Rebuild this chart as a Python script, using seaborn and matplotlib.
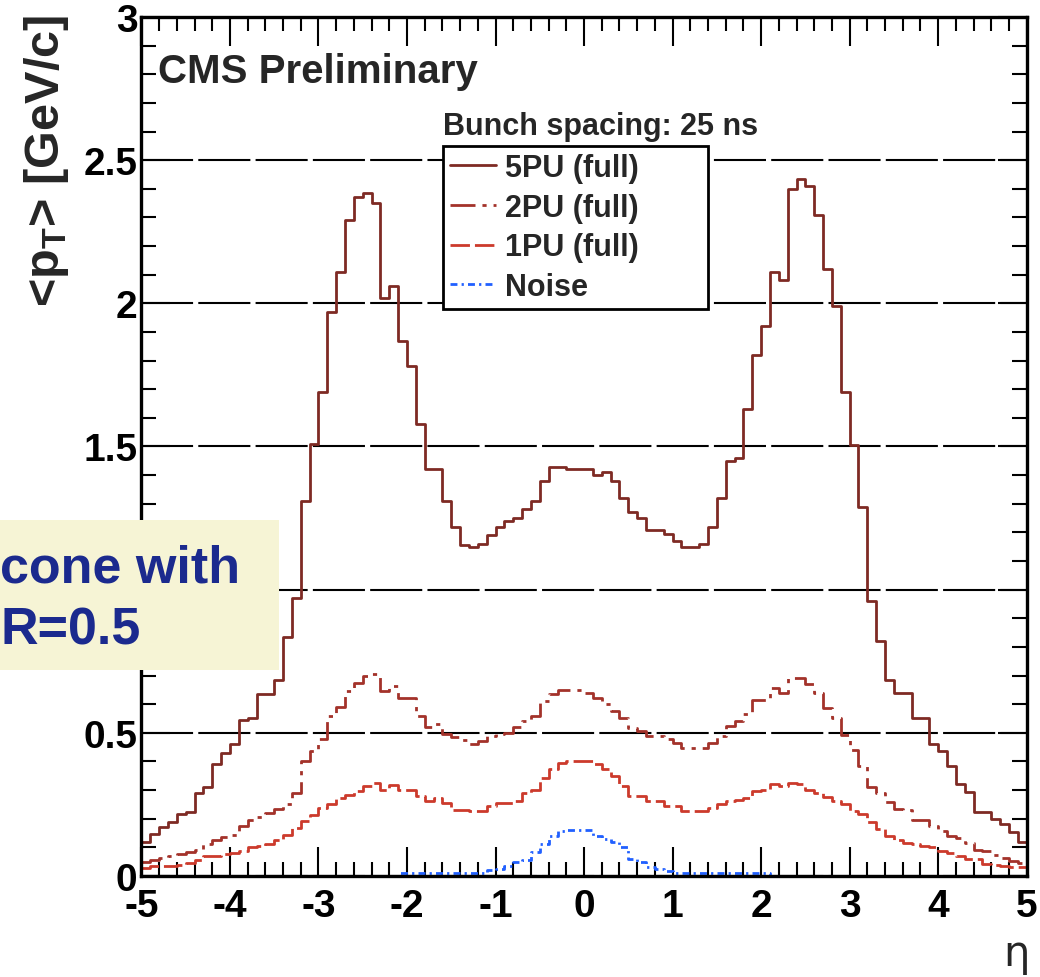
import numpy as np
import pandas as pd
import matplotlib
matplotlib.use('Agg')
import matplotlib.pyplot as plt
from matplotlib.patches import Rectangle
from matplotlib.ticker import MultipleLocator
import seaborn as sns

# ------------------------------------------------------------
# DATA: <pT> in a cone vs eta, 100 bins from -5 to 5
# ------------------------------------------------------------
n_bins = 100
eta_range = (-5, 5)
eta_centres = np.linspace(-4.95, 4.95, n_bins)

pt_5pu = [
    0.12, 0.145, 0.17, 0.19, 0.215, 0.225, 0.29, 0.31, 0.39, 0.43,
    0.46, 0.545, 0.55, 0.635, 0.635, 0.685, 0.835, 0.97, 1.31, 1.51,
    1.69, 1.97, 2.11, 2.29, 2.37, 2.385, 2.35, 2.02, 2.06, 1.87,
    1.78, 1.58, 1.42, 1.42, 1.31, 1.22, 1.155, 1.15, 1.16, 1.19,
    1.22, 1.24, 1.25, 1.28, 1.31, 1.38, 1.43, 1.43, 1.42, 1.42,
    1.42, 1.40, 1.41, 1.38, 1.32, 1.27, 1.25, 1.21, 1.21, 1.195,
    1.17, 1.15, 1.15, 1.16, 1.22, 1.32, 1.45, 1.46, 1.63, 1.82,
    1.92, 2.11, 2.08, 2.40, 2.435, 2.41, 2.31, 2.12, 1.99, 1.69,
    1.505, 1.29, 0.96, 0.82, 0.685, 0.64, 0.64, 0.55, 0.55, 0.46,
    0.435, 0.385, 0.32, 0.295, 0.225, 0.225, 0.20, 0.18, 0.155, 0.12,
]

pt_2pu = [
    0.05, 0.055, 0.063, 0.07, 0.075, 0.085, 0.092, 0.11, 0.125, 0.135,
    0.144, 0.175, 0.197, 0.205, 0.22, 0.235, 0.25, 0.29, 0.40, 0.436,
    0.48, 0.56, 0.59, 0.646, 0.675, 0.70, 0.705, 0.645, 0.665, 0.62,
    0.62, 0.56, 0.52, 0.53, 0.495, 0.485, 0.475, 0.46, 0.47, 0.49,
    0.495, 0.50, 0.52, 0.54, 0.56, 0.61, 0.635, 0.648, 0.65, 0.65,
    0.64, 0.62, 0.60, 0.576, 0.55, 0.517, 0.505, 0.488, 0.488, 0.48,
    0.465, 0.447, 0.447, 0.447, 0.465, 0.49, 0.523, 0.54, 0.564, 0.613,
    0.613, 0.657, 0.64, 0.692, 0.692, 0.669, 0.64, 0.587, 0.552, 0.494,
    0.44, 0.385, 0.31, 0.29, 0.258, 0.235, 0.23, 0.197, 0.195, 0.175,
    0.157, 0.14, 0.133, 0.115, 0.09, 0.087, 0.074, 0.063, 0.053, 0.045,
]

pt_1pu = [
    0.028, 0.036, 0.036, 0.036, 0.038, 0.045, 0.055, 0.069, 0.069, 0.075,
    0.08, 0.086, 0.10, 0.105, 0.112, 0.127, 0.144, 0.168, 0.191, 0.214,
    0.238, 0.25, 0.273, 0.284, 0.296, 0.313, 0.325, 0.302, 0.317, 0.302,
    0.302, 0.28, 0.261, 0.273, 0.256, 0.232, 0.232, 0.226, 0.226, 0.244,
    0.256, 0.256, 0.261, 0.29, 0.302, 0.343, 0.372, 0.395, 0.40, 0.40,
    0.40, 0.39, 0.372, 0.349, 0.313, 0.279, 0.279, 0.261, 0.261, 0.244,
    0.244, 0.226, 0.226, 0.226, 0.238, 0.25, 0.261, 0.265, 0.273, 0.296,
    0.302, 0.32, 0.313, 0.325, 0.32, 0.302, 0.29, 0.275, 0.261, 0.25,
    0.226, 0.215, 0.19, 0.165, 0.139, 0.127, 0.115, 0.11, 0.104, 0.10,
    0.087, 0.08, 0.069, 0.06, 0.058, 0.043, 0.04, 0.035, 0.032, 0.03,
]

pt_noise = [
    0, 0, 0, 0, 0, 0, 0, 0, 0, 0,
    0, 0, 0, 0, 0, 0, 0, 0, 0, 0,
    0, 0, 0, 0, 0, 0, 0, 0, 0, 0.01,
    0.01, 0.01, 0.01, 0.01, 0.01, 0.01, 0.01, 0.01, 0.012, 0.02,
    0.025, 0.035, 0.05, 0.055, 0.085, 0.11, 0.14, 0.157, 0.16, 0.16,
    0.16, 0.14, 0.13, 0.12, 0.10, 0.06, 0.05, 0.03, 0.025, 0.017,
    0.01, 0.01, 0.01, 0.01, 0.01, 0.01, 0.01, 0.01, 0.01, 0.01,
    0.01, 0, 0, 0, 0, 0, 0, 0, 0, 0,
    0, 0, 0, 0, 0, 0, 0, 0, 0, 0,
    0, 0, 0, 0, 0, 0, 0, 0, 0, 0,
]

series_labels = ['5PU (full)', '2PU (full)', '1PU (full)', 'Noise']
x_ticks = [-5, -4, -3, -2, -1, 0, 1, 2, 3, 4, 5]
y_ticks = [0, 0.5, 1, 1.5, 2, 2.5, 3]
y_tick_labels = ['0', '0.5', '1', '1.5', '2', '2.5', '3']

# ------------------------------------------------------------
# STYLE
# ------------------------------------------------------------
sns.set_style('ticks')
plt.rcParams['font.family'] = ['Liberation Sans', 'DejaVu Sans']
plt.rcParams['font.weight'] = 'bold'
plt.rcParams['mathtext.fontset'] = 'custom'
plt.rcParams['mathtext.rm'] = 'Liberation Sans:bold'
plt.rcParams['mathtext.it'] = 'Liberation Sans:bold'
plt.rcParams['mathtext.bf'] = 'Liberation Sans:bold'

colors = ['#7e2a24', '#a3322a', '#cc3a2c', '#2160ff']
styles = ['-', (0, (9, 2.5, 1.5, 2.5)), (0, (7, 1.8)), (0, (2.5, 1.5, 0.8, 1.5))]

fig = plt.figure(figsize=(10.4, 9.78), dpi=100)
ax = fig.add_axes([0.136, 0.1033, 0.8512, 0.8783])

for vals, label, color, ls in zip([pt_5pu, pt_2pu, pt_1pu, pt_noise],
                                  series_labels, colors, styles):
    df = pd.DataFrame({'eta': eta_centres, 'pt': vals})
    sns.histplot(data=df, x='eta', weights='pt', bins=n_bins,
                 binrange=eta_range, element='step', fill=False,
                 color=color, linestyle=ls, linewidth=2.0, label=label, ax=ax)

ax.set_xlim(-5, 5)
ax.set_ylim(0, 3)
ax.set_xlabel('')
ax.set_ylabel('')
ax.set_xticks(x_ticks)
ax.set_xticklabels([str(t) for t in x_ticks])
ax.set_yticks(y_ticks)
ax.set_yticklabels(y_tick_labels)
ax.xaxis.set_minor_locator(MultipleLocator(0.2))
ax.yaxis.set_minor_locator(MultipleLocator(0.1))

ax.tick_params(which='both', direction='in', top=True, right=True,
               width=1.5, colors='black')
ax.tick_params(axis='x', which='major', length=21, labelsize=28, pad=9)
ax.tick_params(axis='x', which='minor', length=10)
ax.tick_params(axis='y', which='major', length=21, labelsize=28, pad=3)
ax.tick_params(axis='y', which='minor', length=11)
for s in ax.spines.values():
    s.set_linewidth(2.4)
    s.set_color('black')

# the "1" label sits under the yellow box in the original, so it is not shown
ax.get_yticklabels()[y_ticks.index(1)].set_visible(False)

ax.set_axisbelow(True)
ax.yaxis.grid(True, which='major', color='black',
              linestyle=(0, (25, 2.5)), linewidth=1.5)

# texts
ax.text(0.0186, 0.9243, 'CMS Preliminary', transform=ax.transAxes,
        fontsize=29, va='baseline', ha='left')
ax.text(0.3407, 0.8638, 'Bunch spacing: 25 ns', transform=ax.transAxes,
        fontsize=22, va='baseline', ha='left')

handles, labels = ax.get_legend_handles_labels()
leg = ax.legend(handles, labels, loc='upper left',
                bbox_to_anchor=(0.3407, 0.6624, 0.2995, 0.1874),
                mode='expand', frameon=True, fancybox=False,
                edgecolor='black', framealpha=1, fontsize=22,
                handlelength=1.5, handletextpad=0.3, labelspacing=0.32,
                borderpad=0.22, borderaxespad=0)
leg.get_frame().set_linewidth(2)

fig.text(47 / 1040, 1 - 15 / 978, r'<p$_\mathrm{T}$> [GeV/c]',
         rotation=90, va='top', ha='center', fontsize=35)
fig.text(1030 / 1040, 12 / 978, 'η', ha='right', va='baseline',
         fontsize=30, fontweight='normal', family='DejaVu Sans')

# yellow annotation box at the left edge
fig.add_artist(Rectangle((0, 0.3139), 0.268, 0.1534,
                         transform=fig.transFigure, facecolor='#f6f4d5',
                         edgecolor='none', zorder=5))
fig.text(0.0, 0.4039, 'cone with', fontsize=37.5, color='#1b2a8e',
         ha='left', va='baseline', zorder=6)
fig.text(0.0, 0.3405, 'R=0.5', fontsize=37.5, color='#1b2a8e',
         ha='left', va='baseline', zorder=6)

fig.savefig('out.png', dpi=100)
